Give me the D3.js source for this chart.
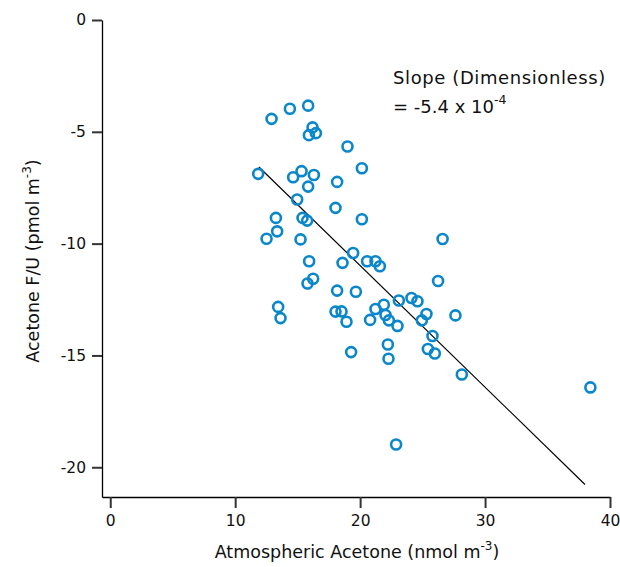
<!DOCTYPE html>
<html>
<head>
<meta charset="utf-8">
<script src="https://cdn.jsdelivr.net/npm/d3@7"></script>
<style>
  html, body { margin: 0; padding: 0; background: #fff; }
  svg { display: block; }
  text { font-family: "DejaVu Sans", "Open Sans", sans-serif; fill: #111; }
</style>
</head>
<body>
<svg id="chart" width="620" height="567"></svg>
<script>
// Atmospheric acetone (nmol m^-3) for each observation
const acetoneAtm = [
  12.91, 14.38, 15.84, 16.19, 15.90, 16.46, 18.99, 20.14, 11.84, 14.64,
  15.31, 16.30, 15.84, 18.16, 14.96, 18.03, 13.26, 15.39, 15.76, 20.14,
  13.36, 12.51, 15.23, 15.92, 18.59, 19.44, 20.56, 21.23, 21.58, 26.60,
  16.24, 15.79, 26.24, 18.16, 19.66, 13.44, 13.63, 18.03, 18.51, 18.91,
  20.80, 21.23, 21.90, 22.03, 22.30, 22.99, 23.10, 24.11, 24.59, 25.31,
  24.94, 25.79, 27.63, 25.42, 25.98, 22.22, 22.27, 19.28, 28.14, 22.88,
  38.43
];
// Acetone flux / wind speed (pmol m^-3) for each observation
const acetoneFU = [
  -4.42, -3.97, -3.83, -4.80, -5.15, -5.06, -5.66, -6.63, -6.88, -7.03,
  -6.76, -6.93, -7.45, -7.24, -8.03, -8.40, -8.85, -8.85, -8.97, -8.91,
  -9.45, -9.78, -9.81, -10.79, -10.86, -10.42, -10.79, -10.79, -11.01, -9.79,
  -11.57, -11.78, -11.67, -12.10, -12.15, -12.83, -13.33, -13.04, -13.03, -13.49,
  -13.41, -12.92, -12.73, -13.19, -13.43, -13.68, -12.54, -12.43, -12.58, -13.15,
  -13.43, -14.13, -13.21, -14.71, -14.91, -14.51, -15.15, -14.85, -15.85, -18.98,
  -16.43
];
// Linear fit: F/U = intercept + slope * C (slope in pmol/nmol, i.e. -5.4e-4 dimensionless)
const fitSlope = -0.544;
const fitIntercept = -0.10;
const fitRange = [11.9, 38.0];

const xTicks = [0, 10, 20, 30, 40];
const yTicks = [0, -5, -10, -15, -20];

const svg = d3.select("#chart");

const x = d3.scaleLinear().domain([-0.66, 40]).range([102, 610]);
const y = d3.scaleLinear().domain([-21.33, 0]).range([497, 20]);

// Axes
const fmt = d => String(d);
const xAxis = d3.axisBottom(x).tickValues(xTicks).tickFormat(fmt).tickSize(11).tickPadding(7).tickSizeOuter(0);
const yAxis = d3.axisLeft(y).tickValues(yTicks).tickFormat(fmt).tickSize(10).tickPadding(6).tickSizeOuter(0);

const gx = svg.append("g").attr("transform", "translate(0,497)").call(xAxis);
const gy = svg.append("g").attr("transform", "translate(102,0)").call(yAxis);

[gx, gy].forEach(g => {
  g.select(".domain").attr("stroke", "#000").attr("stroke-width", 1.3);
  g.selectAll(".tick line").attr("stroke", "#333").attr("stroke-width", 2);
  g.selectAll(".tick text")
    .attr("font-family", "'DejaVu Sans', sans-serif")
    .attr("font-size", 15.5)
    .attr("fill", "#111");
});

// Axis titles
const xt = svg.append("text")
  .attr("x", 357).attr("y", 558)
  .attr("text-anchor", "middle")
  .attr("font-size", 17.5);
xt.append("tspan").text("Atmospheric Acetone (nmol m");
xt.append("tspan").attr("dy", -8).attr("font-size", 12).text("-3");
xt.append("tspan").attr("dy", 8).text(")");

const yt = svg.append("text")
  .attr("transform", "translate(39,261) rotate(-90)")
  .attr("text-anchor", "middle")
  .attr("font-size", 17.5);
yt.append("tspan").text("Acetone F/U (pmol m");
yt.append("tspan").attr("dy", -8).attr("font-size", 12).text("-3");
yt.append("tspan").attr("dy", 8).text(")");

// Fit line
svg.append("line")
  .attr("x1", x(fitRange[0])).attr("y1", y(fitIntercept + fitSlope * fitRange[0]))
  .attr("x2", x(fitRange[1])).attr("y2", y(fitIntercept + fitSlope * fitRange[1]))
  .attr("stroke", "#000").attr("stroke-width", 1.2);

// Observations
svg.append("g").selectAll("circle")
  .data(d3.range(acetoneAtm.length))
  .join("circle")
  .attr("cx", i => x(acetoneAtm[i]))
  .attr("cy", i => y(acetoneFU[i]))
  .attr("r", 5)
  .attr("fill", "none")
  .attr("stroke", "#0a87cb")
  .attr("stroke-width", 2.6);

// Slope annotation
svg.append("text").attr("x", 393).attr("y", 84).attr("font-size", 18)
  .attr("letter-spacing", 0.6)
  .text("Slope (Dimensionless)");
const st = svg.append("text").attr("x", 393).attr("y", 113).attr("font-size", 18);
st.append("tspan").text("= -5.4 x 10");
st.append("tspan").attr("dy", -9).attr("font-size", 12.5).text("-4");
</script>
</body>
</html>
